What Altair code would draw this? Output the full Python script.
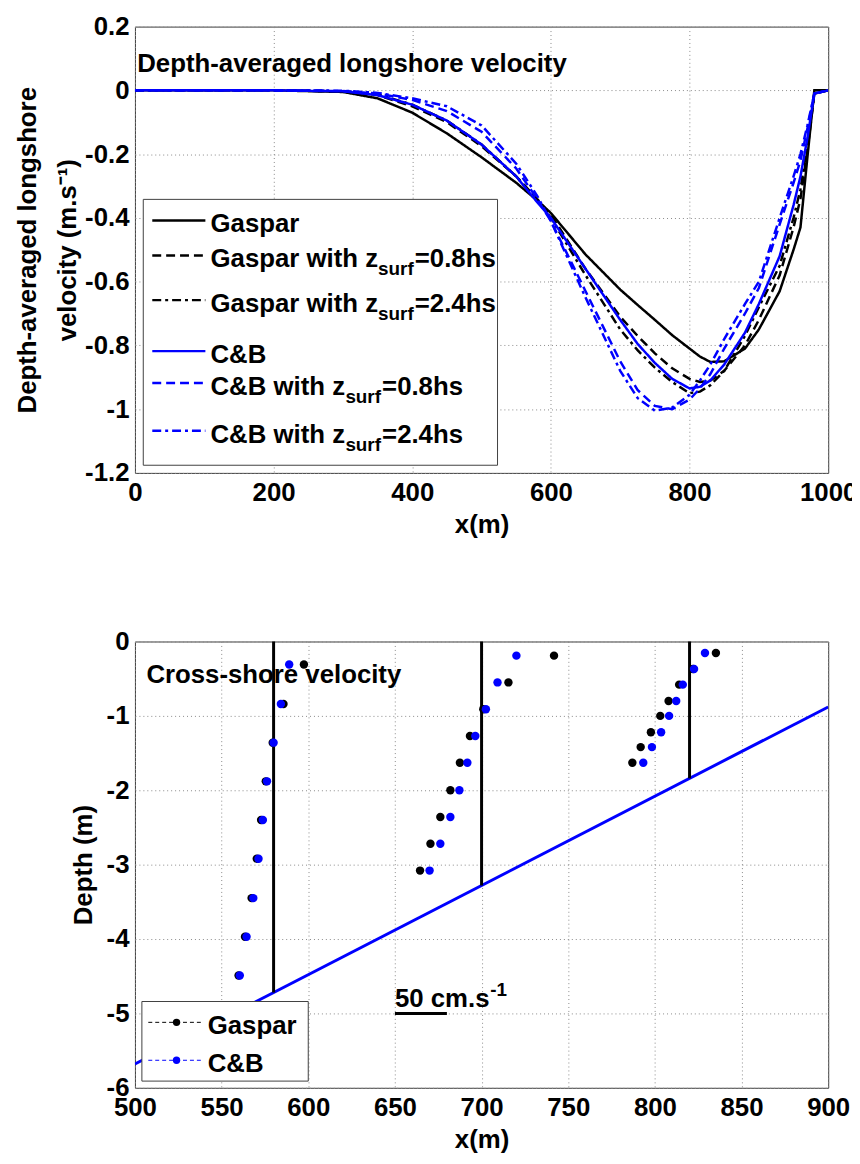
import altair as alt
import pandas as pd

FONT = "Liberation Sans"
BLACK = "#000000"
BLUE = "#0000ff"

# ---------------- top panel: depth-averaged longshore velocity ----------------
X_TOP = [0, 200, 300, 350, 400, 450, 500, 550, 580, 600, 650, 700, 725, 750, 775,
         800, 815, 830, 850, 880, 900, 930, 950, 960, 970, 980, 1000]
V_GASPAR = [0, 0, -0.005, -0.025, -0.07, -0.135, -0.21, -0.29, -0.345, -0.385, -0.515,
            -0.625, -0.673, -0.72, -0.768, -0.81, -0.835, -0.852, -0.85, -0.81, -0.75,
            -0.63, -0.50, -0.43, -0.21, 0, 0]
V_GASPAR08 = [0, 0, -0.003, -0.015, -0.05, -0.10, -0.175, -0.27, -0.34, -0.39, -0.56,
              -0.71, -0.77, -0.825, -0.872, -0.905, -0.915, -0.91, -0.88, -0.80, -0.72,
              -0.58, -0.43, -0.34, -0.19, -0.01, 0]
V_GASPAR24 = [0, 0, -0.003, -0.012, -0.045, -0.095, -0.17, -0.27, -0.345, -0.40, -0.58,
              -0.75, -0.815, -0.87, -0.915, -0.95, -0.945, -0.925, -0.88, -0.77, -0.68,
              -0.55, -0.40, -0.31, -0.17, -0.01, 0]
V_CB = [0, 0, -0.003, -0.015, -0.045, -0.095, -0.17, -0.27, -0.35, -0.40, -0.56,
        -0.72, -0.795, -0.855, -0.905, -0.935, -0.93, -0.91, -0.86, -0.76, -0.67,
        -0.52, -0.36, -0.27, -0.15, -0.01, 0]
V_CB08 = [0, 0, -0.002, -0.01, -0.03, -0.065, -0.13, -0.245, -0.34, -0.41, -0.63,
          -0.85, -0.94, -0.99, -1.0, -0.97, -0.935, -0.89, -0.81, -0.70, -0.62,
          -0.42, -0.29, -0.22, -0.12, -0.01, 0]
V_CB24 = [0, 0, -0.001, -0.008, -0.025, -0.05, -0.11, -0.23, -0.33, -0.41, -0.65,
          -0.88, -0.965, -1.005, -0.995, -0.955, -0.91, -0.86, -0.78, -0.67, -0.60,
          -0.40, -0.27, -0.20, -0.11, -0.01, 0]

SERIES = ["Gaspar", "Gaspar 0.8hs", "Gaspar 2.4hs", "C&B", "C&B 0.8hs", "C&B 2.4hs"]
SERIES_VALUES = [V_GASPAR, V_GASPAR08, V_GASPAR24, V_CB, V_CB08, V_CB24]
SERIES_COLORS = [BLACK, BLACK, BLACK, BLUE, BLUE, BLUE]
SERIES_DASH = [[1, 0], [9, 5], [9, 4, 3, 4], [1, 0], [9, 5], [9, 4, 3, 4]]

X_TICKS_TOP = [0, 200, 400, 600, 800, 1000]
Y_TICKS_TOP = [-1.2, -1, -0.8, -0.6, -0.4, -0.2, 0, 0.2]

LEG_Y = [-0.42, -0.53, -0.67, -0.83, -0.93, -1.08]
LEG_MAIN = ["Gaspar", "Gaspar with z", "Gaspar with z", "C&B", "C&B with z", "C&B with z"]
LEG_SUB = ["", "surf", "surf", "", "surf", "surf"]
LEG_TAIL = ["", "=0.8hs", "=2.4hs", "", "=0.8hs", "=2.4hs"]
LEG_BOX_X = [12, 523]
LEG_BOX_Y = [-0.342, -1.176]
LEG_LINE_X = [25, 101.6]
LEG_TEXT_X = 109

TOP_NOTE = "Depth-averaged longshore velocity"
TOP_NOTE_X, TOP_NOTE_Y = 3.3, 0.084

# ---------------- bottom panel: cross-shore velocity ----------------
X_TICKS_BOT = [500, 550, 600, 650, 700, 750, 800, 850, 900]
Y_TICKS_BOT = [-6, -5, -4, -3, -2, -1, 0]

BED_X = [500, 900]
BED_Z = [-5.68, -0.88]

STATIONS = [580, 700, 820]
PROFILE_BOTTOM = [-4.72, -3.28, -1.84]

DEPTH_580 = [-0.31, -0.84, -1.36, -1.88, -2.40, -2.92, -3.45, -3.97, -4.49]
GASPAR_580 = [597.5, 585.7, 579.5, 575.5, 572.8, 570.3, 567.3, 563.5, 559.8]
CB_580 = [589.0, 584.2, 580.0, 576.2, 573.8, 571.3, 568.3, 564.4, 560.5]

DEPTH_700 = [-0.19, -0.55, -0.91, -1.27, -1.63, -2.00, -2.36, -2.72, -3.08]
GASPAR_700 = [741.8, 715.5, 701.0, 693.3, 687.5, 682.0, 676.2, 670.5, 664.5]
CB_700 = [720.1, 709.2, 702.5, 696.4, 691.8, 687.2, 682.0, 676.2, 670.0]

DEPTH_820 = [-0.155, -0.37, -0.58, -0.80, -1.00, -1.22, -1.42, -1.63]
GASPAR_820 = [835.2, 822.0, 814.0, 807.9, 803.1, 797.7, 791.8, 787.0]
CB_820 = [828.9, 822.6, 816.1, 812.3, 808.2, 803.6, 798.3, 793.3]

SCALE_BAR_X = [650, 680]
SCALE_BAR_Y = -5.0
SCALE_LABEL = "50 cm.s"
SCALE_SUP = "-1"
SCALE_LABEL_Y = -4.91

BOT_NOTE = "Cross-shore velocity"
BOT_NOTE_X, BOT_NOTE_Y = 506.6, -0.45

BLEG_MODELS = ["Gaspar", "C&B"]
BLEG_COLORS = [BLACK, BLUE]
BLEG_LINE_COLORS = ["#808080", BLUE]
BLEG_LINE_Y = [-5.12, -5.63]
BLEG_TEXT_Y = [-5.17, -5.68]
BLEG_BOX_X = [504, 600]
BLEG_BOX_Y = [-4.84, -5.91]
BLEG_LINE_X = [507.7, 538]
BLEG_MARK_X = 524
BLEG_TEXT_X = 542

FS = 26
FS_SMALL = 19

# ================= build top panel =================
rows = []
for s, vals in zip(SERIES, SERIES_VALUES):
    for x, v in zip(X_TOP, vals):
        rows.append({"x": x, "v": v, "series": s})
df_top = pd.DataFrame(rows)

xs_top = alt.Scale(domain=[0, 1000], nice=False, zero=False)
ys_top = alt.Scale(domain=[-1.2, 0.2], nice=False, zero=False)
color_top = alt.Scale(domain=SERIES, range=SERIES_COLORS)
dash_top = alt.Scale(domain=SERIES, range=SERIES_DASH)

ax_x_top = alt.Axis(values=X_TICKS_TOP, labelExpr="'' + datum.value", title="x(m)")
ax_y_top = alt.Axis(values=Y_TICKS_TOP, labelExpr="'' + datum.value",
                    title=["Depth-averaged longshore", "velocity (m.s\u207b\u00b9)"],
                    titleLineHeight=40, titlePadding=4)


def XT(f):
    return alt.X(f"{f}:Q", scale=xs_top, axis=ax_x_top)


def YT(f):
    return alt.Y(f"{f}:Q", scale=ys_top, axis=ax_y_top)


def line_layer(names):
    d = df_top[df_top["series"].isin(names)]
    return alt.Chart(d).mark_line(strokeWidth=2.5, strokeCap="butt", clip=True).encode(
        x=XT("x"), y=YT("v"),
        color=alt.Color("series:N", scale=color_top, legend=None),
        strokeDash=alt.StrokeDash("series:N", scale=dash_top, legend=None),
        detail="series:N",
    )


top_note = alt.Chart(pd.DataFrame({"x": [TOP_NOTE_X], "y": [TOP_NOTE_Y], "t": [TOP_NOTE]})).mark_text(
    align="left", baseline="middle", font=FONT, fontSize=FS, fontWeight="bold", color=BLACK
).encode(x=XT("x"), y=YT("y"), text="t:N")

leg_box = alt.Chart(pd.DataFrame({"x": [LEG_BOX_X[0]], "x2": [LEG_BOX_X[1]],
                                  "y": [LEG_BOX_Y[0]], "y2": [LEG_BOX_Y[1]]})).mark_rect(
    fill="white", stroke="#404040", strokeWidth=1
).encode(x=XT("x"), x2="x2:Q", y=YT("y"), y2="y2:Q")

df_leg = pd.DataFrame({"x": [LEG_LINE_X[0]] * 6, "x2": [LEG_LINE_X[1]] * 6, "y": [y + 0.012 for y in LEG_Y],
                       "series": SERIES})
leg_lines = alt.Chart(df_leg).mark_rule(strokeWidth=2.5, strokeCap="butt").encode(
    x=XT("x"), x2="x2:Q", y=YT("y"),
    color=alt.Color("series:N", scale=color_top, legend=None),
    strokeDash=alt.StrokeDash("series:N", scale=dash_top, legend=None),
)

df_legt = pd.DataFrame({"x": [LEG_TEXT_X] * 6, "y": LEG_Y, "main": LEG_MAIN, "sub": LEG_SUB,
                        "tail": LEG_TAIL, "grp": ["G"] * 3 + ["C"] * 3})
leg_main = alt.Chart(df_legt).mark_text(
    align="left", baseline="middle", font=FONT, fontSize=FS, fontWeight="bold", color=BLACK
).encode(x=XT("x"), y=YT("y"), text="main:N")


def sub_text(grp, dx, field, size, dy):
    d = df_legt[(df_legt["grp"] == grp) & (df_legt["sub"] != "")]
    return alt.Chart(d).mark_text(
        align="left", baseline="middle", font=FONT, fontSize=size, fontWeight="bold",
        color=BLACK, dx=dx, dy=dy
    ).encode(x=XT("x"), y=YT("y"), text=f"{field}:N")


top = alt.layer(
    top_note,
    line_layer(SERIES[:3]),
    line_layer(SERIES[3:]),
    leg_box,
    leg_lines,
    leg_main,
    sub_text("G", 169, "sub", FS_SMALL, 10),
    sub_text("G", 206, "tail", FS, 0),
    sub_text("C", 136, "sub", FS_SMALL, 10),
    sub_text("C", 173, "tail", FS, 0),
).properties(width=699, height=450)

# ================= build bottom panel =================
xs_bot = alt.Scale(domain=[500, 900], nice=False, zero=False)
ys_bot = alt.Scale(domain=[-6, 0], nice=False, zero=False)
ax_x_bot = alt.Axis(values=X_TICKS_BOT, labelExpr="'' + datum.value", title="x(m)")
ax_y_bot = alt.Axis(values=Y_TICKS_BOT, labelExpr="'' + datum.value", title="Depth (m)",
                    titlePadding=10)


def XB(f):
    return alt.X(f"{f}:Q", scale=xs_bot, axis=ax_x_bot)


def YB(f):
    return alt.Y(f"{f}:Q", scale=ys_bot, axis=ax_y_bot)


bot_note = alt.Chart(pd.DataFrame({"x": [BOT_NOTE_X], "y": [BOT_NOTE_Y], "t": [BOT_NOTE]})).mark_text(
    align="left", baseline="middle", font=FONT, fontSize=FS, fontWeight="bold", color=BLACK
).encode(x=XB("x"), y=YB("y"), text="t:N")

bed = alt.Chart(pd.DataFrame({"x": BED_X, "z": BED_Z})).mark_line(
    color=BLUE, strokeWidth=3, clip=True).encode(x=XB("x"), y=YB("z"))

profiles = alt.Chart(pd.DataFrame({"x": STATIONS, "z": PROFILE_BOTTOM, "z2": [0, 0, 0]})).mark_rule(
    color=BLACK, strokeWidth=3).encode(x=XB("x"), y=YB("z"), y2="z2:Q")

gx = GASPAR_580 + GASPAR_700 + GASPAR_820
cx = CB_580 + CB_700 + CB_820
dz = DEPTH_580 + DEPTH_700 + DEPTH_820
pts_g = alt.Chart(pd.DataFrame({"x": gx, "z": dz})).mark_circle(
    size=72, color=BLACK, opacity=1).encode(x=XB("x"), y=YB("z"))
pts_c = alt.Chart(pd.DataFrame({"x": cx, "z": dz})).mark_circle(
    size=72, color=BLUE, opacity=1).encode(x=XB("x"), y=YB("z"))

bleg_box = alt.Chart(pd.DataFrame({"x": [BLEG_BOX_X[0]], "x2": [BLEG_BOX_X[1]],
                                   "y": [BLEG_BOX_Y[0]], "y2": [BLEG_BOX_Y[1]]})).mark_rect(
    fill="white", stroke="#404040", strokeWidth=1
).encode(x=XB("x"), x2="x2:Q", y=YB("y"), y2="y2:Q")

df_bleg = pd.DataFrame({"model": BLEG_MODELS, "ly": BLEG_LINE_Y, "ty": BLEG_TEXT_Y,
                        "x": [BLEG_LINE_X[0]] * 2, "x2": [BLEG_LINE_X[1]] * 2,
                        "mx": [BLEG_MARK_X] * 2, "tx": [BLEG_TEXT_X] * 2})
bleg_lines = alt.Chart(df_bleg).mark_rule(strokeWidth=1, strokeDash=[4, 3]).encode(
    x=XB("x"), x2="x2:Q", y=YB("ly"),
    color=alt.Color("model:N", scale=alt.Scale(domain=BLEG_MODELS, range=BLEG_LINE_COLORS), legend=None))
bleg_marks = alt.Chart(df_bleg).mark_circle(size=55, opacity=1).encode(
    x=XB("mx"), y=YB("ly"),
    fill=alt.Fill("model:N", scale=alt.Scale(domain=BLEG_MODELS, range=BLEG_COLORS), legend=None))
bleg_text = alt.Chart(df_bleg).mark_text(
    align="left", baseline="middle", font=FONT, fontSize=FS, fontWeight="bold", color=BLACK
).encode(x=XB("tx"), y=YB("ty"), text="model:N")

scale_bar = alt.Chart(pd.DataFrame({"x": [SCALE_BAR_X[0]], "x2": [SCALE_BAR_X[1]], "y": [SCALE_BAR_Y]})).mark_rule(
    color=BLACK, strokeWidth=3).encode(x=XB("x"), x2="x2:Q", y=YB("y"))
df_sl = pd.DataFrame({"x": [SCALE_BAR_X[0]], "y": [SCALE_LABEL_Y], "t": [SCALE_LABEL], "s": [SCALE_SUP]})
scale_text = alt.Chart(df_sl).mark_text(
    align="left", baseline="alphabetic", font=FONT, fontSize=FS, fontWeight="bold", color=BLACK
).encode(x=XB("x"), y=YB("y"), text="t:N")
scale_sup = alt.Chart(df_sl).mark_text(
    align="left", baseline="alphabetic", font=FONT, fontSize=FS_SMALL, fontWeight="bold", color=BLACK,
    dx=96, dy=-11
).encode(x=XB("x"), y=YB("y"), text="s:N")

bottom = alt.layer(
    bot_note, bed, profiles, pts_g, pts_c, bleg_box, bleg_lines, bleg_marks, bleg_text,
    scale_bar, scale_text, scale_sup
).properties(width=699, height=450)

chart = alt.vconcat(top, bottom, spacing=90).properties(
    padding={"left": 6, "top": 0, "right": -6, "bottom": -4}
).configure_axis(
    labelFont=FONT, labelFontSize=FS, labelFontWeight="bold", labelColor=BLACK,
    titleFont=FONT, titleFontSize=FS, titleFontWeight="bold", titleColor=BLACK,
    grid=True, gridColor="#8a8a8a", gridDash=[1, 3], gridWidth=1,
    domain=False, ticks=False, labelFlush=False, labelOverlap=False,
).configure_axisX(labelPadding=7, titlePadding=6).configure_axisY(labelPadding=6).configure_view(
    stroke="#3c3c3c", strokeWidth=1
)

chart.save("out.html", embed_options={"renderer": "svg", "actions": False})
